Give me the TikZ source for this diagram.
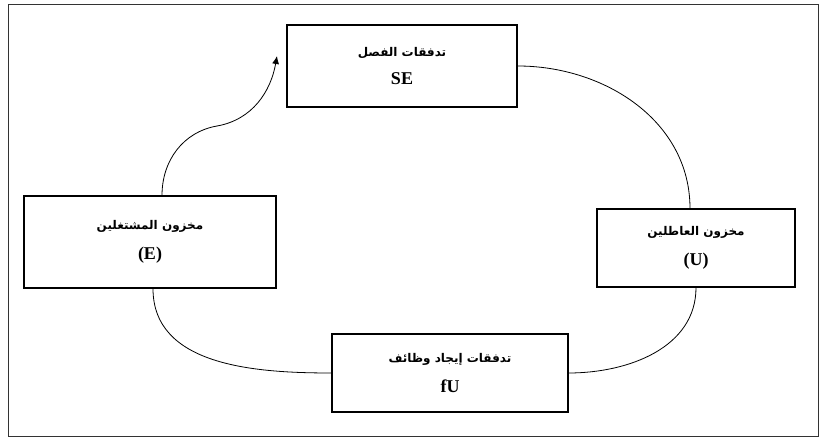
\documentclass[tikz,border=0pt]{standalone}
\usepackage{fontspec}
\setmainfont{Liberation Serif}
\newfontfamily\arabicfont[Script=Arabic]{DejaVu Sans}
\TeXXeTstate=1
\usetikzlibrary{arrows.meta}
\newcommand{\artxt}[1]{{\arabicfont\bfseries\fontsize{12}{14}\selectfont\beginR #1\endR}}
\newcommand{\latxt}[1]{{\bfseries\fontsize{18}{20}\selectfont #1}}
\begin{document}
\begin{tikzpicture}[x=1pt,y=1pt,
  box/.style={draw, line width=1.2pt, align=center, inner sep=0pt},
  link/.style={line width=0.8pt},
  frame/.style={draw=black!80, line width=1pt}]
\useasboundingbox (0,0) rectangle (822,441);
\draw[frame] (8,4) rectangle (818,436);

\node[box, minimum width=230pt, minimum height=82pt] (SE) at (402,375)
  {\artxt{تدفقات الفصل}\\[13pt]\latxt{SE}};
\node[box, minimum width=252pt, minimum height=92pt] (E) at (150,199)
  {\artxt{مخزون المشتغلين}\\[13pt]\latxt{(E)}};
\node[box, minimum width=198pt, minimum height=78pt] (U) at (696,193)
  {\artxt{مخزون العاطلين}\\[13pt]\latxt{(U)}};
\node[box, minimum width=236pt, minimum height=78pt] (fU) at (450,68)
  {\artxt{تدفقات إيجاد وظائف}\\[13pt]\latxt{fU}};

\coordinate (bend) at (217,315);
\coordinate (tip) at (277,385);

\draw[link] (SE.east) to[out=0,in=90] ([xshift=-6pt]U.north);
\draw[link] (U.south) to[out=-90,in=0] (fU.east);
\draw[link] (fU.west) to[out=180,in=-90] ([xshift=3pt]E.south);
\draw[link,-{Latex[length=8pt,width=7pt]}] ([xshift=12pt]E.north)
  to[out=90,in=190] (bend) to[out=10,in=-100] (tip);
\end{tikzpicture}
\end{document}
